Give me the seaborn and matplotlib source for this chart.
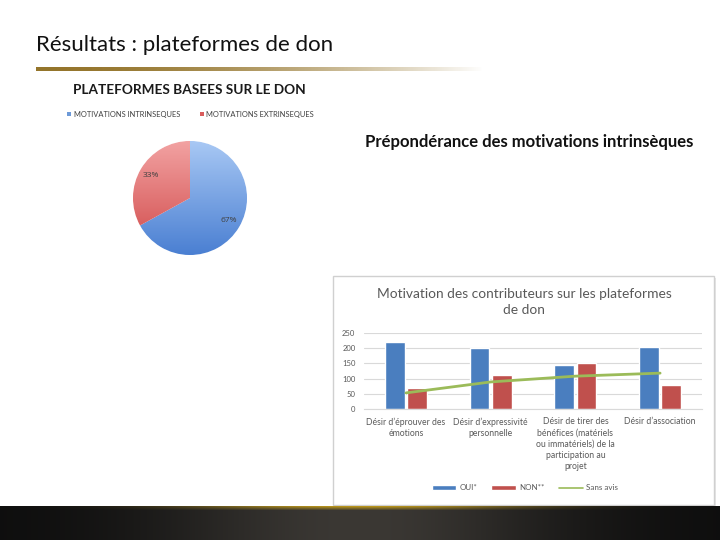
import numpy as np
import pandas as pd
import matplotlib
matplotlib.use("Agg")
import matplotlib.pyplot as plt
import seaborn as sns
from matplotlib.patches import Rectangle, Patch
from matplotlib.lines import Line2D
from matplotlib.colors import to_rgb

# ---------------- data ----------------
slide_title = "Résultats : plateformes de don"
pie_title = "PLATEFORMES BASEES SUR LE DON"
pie_labels = ["MOTIVATIONS INTRINSEQUES", "MOTIVATIONS EXTRINSEQUES"]
pie_values = [67, 33]
pie_pct_labels = ["67%", "33%"]
side_text = "Prépondérance des motivations intrinsèques"
bar_title = "Motivation des contributeurs sur les plateformes\nde don"
categories = ["Désir d’éprouver des\némotions",
              "Désir d’expressivité\npersonnelle",
              "Désir de tirer des\nbénéfices (matériels\nou immatériels) de la\nparticipation au\nprojet",
              "Désir d’association"]
oui = [220, 202, 146, 205]
non = [68, 112, 150, 80]
sans_avis = [53, 89, 108, 118]
series_names = ["OUI*", "NON**", "Sans avis"]
yticks = [0, 50, 100, 150, 200, 250]

# ---------------- style ----------------
sns.set_theme(style="white")
plt.rcParams["font.family"] = ["Lato", "DejaVu Sans"]

W, H = 720, 540
fig = plt.figure(figsize=(7.2, 5.4), dpi=100)
fig.patch.set_facecolor("white")

def fx(x):
    return x / W

def fy(y):
    return 1 - y / H

# background axes in pixel coordinates
bg = fig.add_axes([0, 0, 1, 1])
bg.set_xlim(0, W)
bg.set_ylim(H, 0)
bg.axis("off")

# slide title
bg.text(36, 45, slide_title, fontsize=16, color="#111111", va="center", ha="left")

# gold gradient line
n = 400
t = np.linspace(0, 1, n)
gold = np.zeros((1, n, 4))
gold[0, :, 0:3] = to_rgb("#94742a")
gold[0, :, 3] = np.clip(1.0 - t ** 1.8, 0, 1)
bg.imshow(gold, extent=[36, 484, 71, 67], aspect="auto", interpolation="bilinear", zorder=2)

# bottom dark band
xs = np.linspace(0, 1, W)
w_center = np.exp(-((xs - 0.5) / 0.28) ** 2)
edge = np.array(to_rgb("#0d0d0d"))
mid = np.array(to_rgb("#3b3834"))
band = np.zeros((34, W, 3))
for r in range(34):
    band[r] = edge + (mid - edge) * w_center[:, None]
goldc = np.array(to_rgb("#b8941c"))
glow = np.exp(-((xs - 0.5) / 0.22) ** 2)
for r in range(4):
    k = glow * (1 - r / 4.0)
    band[r] = band[r] * (1 - k[:, None]) + goldc * k[:, None]
bg.imshow(band, extent=[0, W, 540, 506], aspect="auto", interpolation="bilinear", zorder=2)

# bar chart box
bg.add_patch(Rectangle((335, 278), 381, 229, facecolor="#e6e6e6", edgecolor="none", zorder=1))
bg.add_patch(Rectangle((333, 276), 381, 229, facecolor="white", edgecolor="#d0d0d0", lw=1, zorder=1.5))
bg.set_xlim(0, W)
bg.set_ylim(H, 0)

# pie block texts
bg.text(73, 90, pie_title, fontsize=9.8, fontweight="bold", color="#1a1a1a", va="center", ha="left")
pie_colors = ["#5b8fdc", "#e06464"]
bg.add_patch(Rectangle((67, 112), 4, 4, facecolor="#6d9ad8", edgecolor="none"))
bg.text(74, 114, pie_labels[0], fontsize=5.4, color="#404040", va="center", ha="left")
bg.add_patch(Rectangle((200, 112), 4, 4, facecolor="#d95c5c", edgecolor="none"))
bg.text(206, 114, pie_labels[1], fontsize=5.4, color="#404040", va="center", ha="left")

# side text
bg.text(365, 142, side_text, fontsize=12, fontweight="bold", color="#111111", va="center", ha="left")

# bar chart title
bg.text(524, 302, bar_title, fontsize=9.9, color="#595959", va="center", ha="center",
        linespacing=1.5)

# ---------------- pie ----------------
ax_pie = fig.add_axes([fx(133), fy(255), 114 / W, 114 / H])
wedges, texts = ax_pie.pie(
    pie_values, colors=pie_colors, startangle=90, counterclock=False,
    labels=pie_pct_labels, labeldistance=0.79,
    textprops=dict(fontsize=6.0, color="#404040", ha="center", va="center",
                   family=["Open Sans", "DejaVu Sans"], fontstyle="normal"))
grad_top = [to_rgb("#a8c8f4"), to_rgb("#f2a2a2")]
grad_bot = [to_rgb("#4a7fd2"), to_rgb("#d04848")]
gy = np.linspace(0, 1, 200)[:, None]
for i, wdg in enumerate(wedges):
    top = np.array(grad_top[i])
    bot = np.array(grad_bot[i])
    img = top[None, None, :] * (1 - gy[:, :, None]) + bot[None, None, :] * gy[:, :, None]
    img = np.repeat(img, 2, axis=1)
    im = ax_pie.imshow(img, extent=[-1, 1, -1, 1], aspect="auto", interpolation="bilinear", zorder=1)
    im.set_clip_path(wdg)
for t_ in texts:
    t_.set_zorder(5)
ax_pie.set_xlim(-1.0, 1.0)
ax_pie.set_ylim(-1.0, 1.0)
ax_pie.axis("off")

# ---------------- bar chart ----------------
step = 84.7
left_px = 406 - 0.5 * step
ax = fig.add_axes([fx(left_px), fy(409), 4 * step / W, 76 / H])
df = pd.DataFrame({
    "cat": categories * 2,
    "serie": [series_names[0]] * len(categories) + [series_names[1]] * len(categories),
    "val": oui + non,
})
bar_colors = ["#4a7ebf", "#c0504d"]
line_color = "#9bbb59"
sns.barplot(data=df, x="cat", y="val", hue="serie", palette=bar_colors,
            width=0.53, gap=0.12, saturation=1, ax=ax, legend=False)
sns.lineplot(x=list(range(len(categories))), y=sans_avis, color=line_color,
             lw=2, ax=ax, legend=False)
ax.set_xlim(-0.5, len(categories) - 0.5)
ax.set_ylim(0, 250)
ax.set_yticks(yticks)
ax.set_xlabel("")
ax.set_ylabel("")
ax.yaxis.grid(True, color="#d9d9d9", lw=0.8)
ax.xaxis.grid(False)
ax.set_axisbelow(True)
for s in ["left", "right", "top"]:
    ax.spines[s].set_visible(False)
ax.spines["bottom"].set_color("#d9d9d9")
ax.spines["bottom"].set_linewidth(0.8)
ax.tick_params(axis="y", length=0, pad=6, labelsize=5.5, labelcolor="#595959")
ax.tick_params(axis="x", length=0, pad=6, labelsize=6.2, labelcolor="#595959")
for lab in ax.get_xticklabels():
    lab.set_linespacing(1.3)
ax.set_facecolor("none")

handles = [Patch(facecolor=bar_colors[0]), Patch(facecolor=bar_colors[1]),
           Line2D([0], [0], color=line_color, lw=1.2)]
ax.legend(handles, series_names, loc="center", bbox_to_anchor=(fx(525), fy(488)),
          bbox_transform=fig.transFigure, ncol=3, frameon=False, fontsize=5.8,
          handlelength=3.0, handleheight=0.6, handletextpad=0.4, columnspacing=1.8,
          labelcolor="#595959")

fig.savefig("out.png", dpi=100)
